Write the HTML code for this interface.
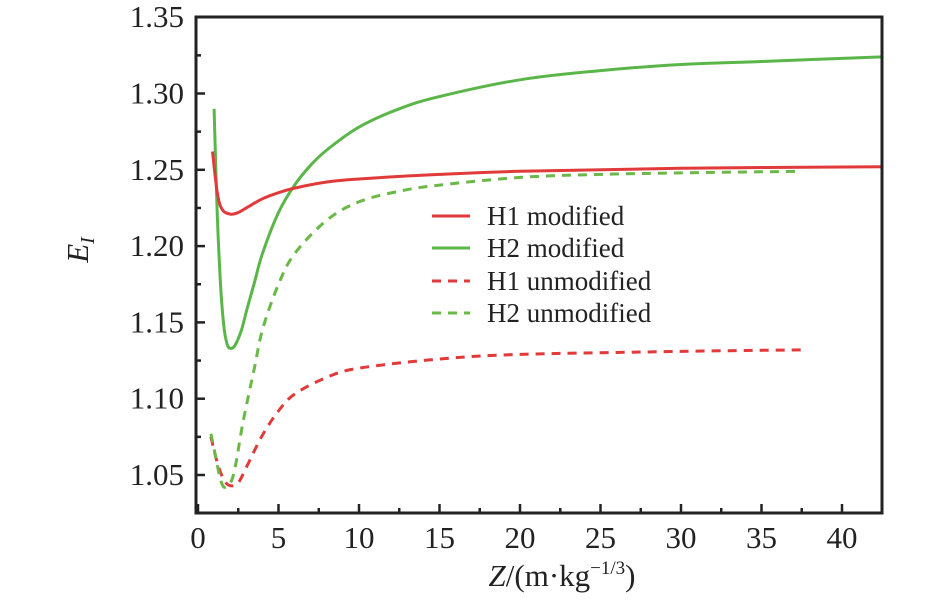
<!DOCTYPE html>
<html><head><meta charset="utf-8"><style>
body{margin:0;background:#fff;}
svg{display:block;}
text{font-family:"Liberation Serif",serif;}
</style></head><body>
<svg id="chart" width="945" height="610" viewBox="0 0 945 610" xmlns="http://www.w3.org/2000/svg"></svg>
<script>
const xTicks=[0,5,10,15,20,25,30,35,40];
const yTicks=[1.05,1.10,1.15,1.20,1.25,1.30,1.35];
const yTickLabels=["1.05","1.10","1.15","1.20","1.25","1.30","1.35"];
const h1ModX=[0.9,1.2,1.5,2,2.5,3,4,5,6,8,10,15,20,30,42.5];
const h1ModY=[1.262,1.235,1.224,1.221,1.222,1.225,1.231,1.235,1.238,1.242,1.244,1.247,1.249,1.251,1.252];
const h2ModX=[1.0,1.2,1.4,1.6,1.8,2,2.3,2.7,3,3.5,4,5,6,7,8,10,12.5,15,20,25,30,35,42.5];
const h2ModY=[1.29,1.22,1.175,1.148,1.136,1.133,1.135,1.145,1.157,1.176,1.195,1.222,1.24,1.253,1.263,1.278,1.29,1.298,1.309,1.315,1.319,1.321,1.324];
const h1UnX=[0.8,1.2,1.6,2,2.5,3,4,5,6,8,10,15,20,30,37.5];
const h1UnY=[1.075,1.058,1.047,1.043,1.045,1.055,1.076,1.092,1.103,1.114,1.12,1.126,1.129,1.131,1.132];
const h2UnX=[0.8,1.1,1.4,1.7,2.2,2.8,3.5,4,5,6,8,10,12.5,15,20,25,30,37.5];
const h2UnY=[1.077,1.062,1.047,1.042,1.05,1.085,1.12,1.145,1.175,1.195,1.217,1.229,1.236,1.24,1.245,1.247,1.248,1.249];

const NS="http://www.w3.org/2000/svg";
const svg=document.getElementById('chart');
const L=196,R=882,T=17,B=513;
const X0=198, XS=16.1;
function sx(v){return X0+v*XS;}
function sy(v){return 475-(v-1.05)/0.05*76.3;}
function el(tag,attrs,parent){const e=document.createElementNS(NS,tag);for(const k in attrs)e.setAttribute(k,attrs[k]);(parent||svg).appendChild(e);return e;}

function smoothPath(pts){
  let d='M'+pts[0][0].toFixed(1)+' '+pts[0][1].toFixed(1);
  for(let i=0;i<pts.length-1;i++){
    const p0=pts[Math.max(0,i-1)],p1=pts[i],p2=pts[i+1],p3=pts[Math.min(pts.length-1,i+2)];
    const c1=[p1[0]+(p2[0]-p0[0])/6,p1[1]+(p2[1]-p0[1])/6];
    const c2=[p2[0]-(p3[0]-p1[0])/6,p2[1]-(p3[1]-p1[1])/6];
    d+=' C'+c1[0].toFixed(1)+' '+c1[1].toFixed(1)+' '+c2[0].toFixed(1)+' '+c2[1].toFixed(1)+' '+p2[0].toFixed(1)+' '+p2[1].toFixed(1);
  }
  return d;
}
function series(xs,ys,color,dash,name){
  const pts=xs.map((x,i)=>[sx(x),sy(ys[i])]);
  const p=el('path',{d:smoothPath(pts),fill:'none',stroke:color,'stroke-width':3,'stroke-dasharray':dash?'9 7':'none','stroke-linejoin':'round'});
  
  
}
series(h1UnX,h1UnY,'#e03a3a',true,'h1-unmodified-line');
series(h2UnX,h2UnY,'#6ab946',true,'h2-unmodified-line');
series(h2ModX,h2ModY,'#5bb64a',false,'h2-modified-line');
series(h1ModX,h1ModY,'#e03a3a',false,'h1-modified-line');

const frame=el('rect',{x:L,y:T,width:R-L,height:B-T,fill:'none',stroke:'#222','stroke-width':3});



xTicks.forEach(v=>{
  const x=sx(v);
  el('line',{x1:x,y1:B,x2:x,y2:B-9,stroke:'#222','stroke-width':2.5});
  el('line',{x1:x+2.5*XS,y1:B,x2:x+2.5*XS,y2:B-5,stroke:'#222','stroke-width':2.5});
  const t=el('text',{x:x,y:548,'font-size':31,'text-anchor':'middle',fill:'#222','font-family':'Liberation Serif, serif'});
  t.textContent=v;
  
  
});
yTicks.forEach((v,i)=>{
  const y=sy(v);
  el('line',{x1:L,y1:y,x2:L+9,y2:y,stroke:'#222','stroke-width':2.5});
  el('line',{x1:L,y1:y+38.15,x2:L+5,y2:y+38.15,stroke:'#222','stroke-width':2.5});
  const t=el('text',{x:184,y:y+10,'font-size':31,'text-anchor':'end',fill:'#222','font-family':'Liberation Serif, serif'});
  t.textContent=yTickLabels[i];
  
  
});
</script>
<svg style="position:absolute;left:0;top:0" width="945" height="610">
  <text transform="translate(88,250) rotate(-90)" text-anchor="middle" font-family="Liberation Serif,serif" font-size="31" font-style="italic" fill="#222">E<tspan font-size="20" dy="6">I</tspan></text>
  <text x="562" y="586" text-anchor="middle" font-family="Liberation Serif,serif" font-size="31" fill="#222"><tspan font-style="italic">Z</tspan>/(m·kg<tspan font-size="19" dy="-12">−1/3</tspan><tspan dy="12">)</tspan></text>
  <g font-family="Liberation Serif,serif" font-size="27" fill="#222">
    <g><line x1="432" y1="216" x2="470" y2="216" stroke="#e03a3a" stroke-width="3"/><text x="487" y="225">H1 modified</text></g>
    <g><line x1="432" y1="248" x2="470" y2="248" stroke="#5bb64a" stroke-width="3"/><text x="487" y="257">H2 modified</text></g>
    <g><line x1="432" y1="281" x2="470" y2="281" stroke="#e03a3a" stroke-width="3" stroke-dasharray="9 7"/><text x="487" y="290">H1 unmodified</text></g>
    <g><line x1="432" y1="313" x2="470" y2="313" stroke="#6ab946" stroke-width="3" stroke-dasharray="9 7"/><text x="487" y="322">H2 unmodified</text></g>
  </g>
</svg>
</body></html>
